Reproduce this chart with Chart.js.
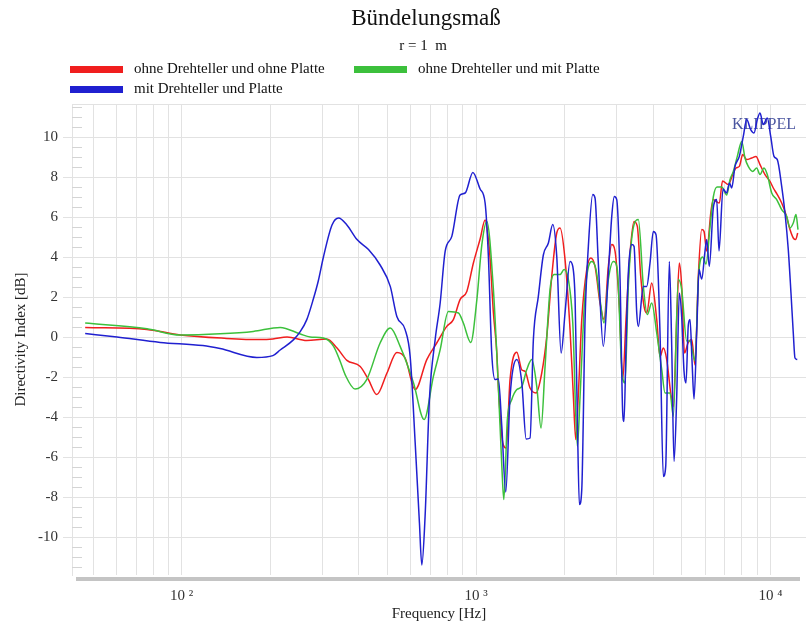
<!DOCTYPE html>
<html>
<head>
<meta charset="utf-8">
<title>Bündelungsmaß</title>
<script src="https://cdn.jsdelivr.net/npm/chart.js@4.4.0/dist/chart.umd.min.js"></script>
<style>
  html, body { margin: 0; padding: 0; background: #fff; }
  #wrap { width: 806px; height: 628px; position: relative; }
</style>
</head>
<body>
<div id="wrap"><canvas id="diChart"></canvas></div>
<script>
// Daten: Bündelungsmaß (Directivity Index) in dB über der Frequenz in Hz
const seriesNames = ['ohne Drehteller und ohne Platte', 'ohne Drehteller und mit Platte', 'mit Drehteller und Platte'];
const seriesColors = ['#f01e1e', '#3cc03c', '#2020d0'];

const freqRed = [47, 76.2, 98.8, 142, 185, 204, 228, 266, 311, 337,
  364, 404, 431, 460, 498, 538, 574, 621, 680, 735,
  795, 837, 882, 930, 979, 1032, 1073, 1101, 1116, 1145,
  1176, 1190, 1232, 1265, 1304, 1375, 1430, 1467, 1525, 1598,
  1671, 1738, 1807, 1879, 1928, 2005, 2085, 2140, 2181, 2226,
  2285, 2376, 2451, 2535, 2636, 2720, 2813, 2889, 2965, 3066,
  3148, 3230, 3333, 3439, 3529, 3624, 3719, 3798, 3949, 4107,
  4214, 4325, 4441, 4582, 4676, 4802, 4901, 4993, 5104, 5246,
  5400, 5541, 5685, 5839, 5945, 6072, 6279, 6393, 6581, 6701,
  6871, 7189, 7440, 7636, 7836, 8046, 8301, 8630, 8927, 9211,
  9579, 9961, 10221, 10546, 10915, 11288, 11646, 11950, 12178, 12370];
const dbRed = [0.48, 0.38, 0.1, -0.07, -0.13, -0.1, 0, -0.18, -0.1, -0.55,
  -1.17, -1.47, -2.13, -2.88, -1.8, -0.77, -1.05, -2.63, -1.13, -0.3,
  0.53, 0.87, 1.87, 2.28, 3.7, 4.9, 5.85, 4.87, 3.9, 1.2,
  -0.8, -2.47, -5.3, -5.55, -2.13, -0.76, -1.65, -1.72, -2.55, -2.8,
  -1.8, 0.03, 3.03, 5.2, 5.45, 3.87, 0.37, -2.97, -5.13, -2.8,
  0.87, 3.37, 3.95, 3.53, 1.7, 0.87, 3.53, 4.62, 4.28, 1.53,
  -2.13, 0.87, 4.2, 5.78, 5.53, 3.03, 1.53, 1.2, 2.7, 0.87,
  -0.97, -0.55, -1.13, -2.8, -3.47, 0.87, 3.7, 2.53, -0.8, -0.3,
  -0.13, -1.4, 3.0, 5.37, 5.28, 4.3, 6.3, 6.87, 6.75, 6.7,
  7.8, 7.62, 8.12, 8.45, 8.53, 9.12, 8.87, 8.95, 9.03, 8.62,
  8.12, 7.78, 7.45, 7.12, 6.7, 6.12, 5.37, 4.95, 4.87, 5.2];

const freqGreen = [47, 76.2, 98.8, 135, 175, 216, 253, 273, 303, 328,
  345, 359, 388, 425, 472, 511, 552, 613, 666, 716,
  755, 805, 871, 905, 959, 1006, 1046, 1087, 1145, 1190,
  1223, 1242, 1277, 1322, 1375, 1430, 1486, 1546, 1607, 1662,
  1715, 1783, 1840, 1928, 1990, 2058, 2130, 2208, 2255, 2345,
  2471, 2555, 2636, 2720, 2813, 2925, 3018, 3124, 3205, 3289,
  3439, 3557, 3699, 3816, 3949, 4107, 4271, 4383, 4557, 4676,
  4863, 4993, 5192, 5329, 5541, 5694, 5876, 6039, 6230, 6393,
  6581, 6827, 7100, 7285, 7476, 7714, 7984, 8191, 8404, 8698,
  8975, 9211, 9504, 9752, 10095, 10496, 10915, 11350, 11646, 11950,
  12207, 12399];
const dbGreen = [0.7, 0.41, 0.1, 0.16, 0.28, 0.48, 0.15, 0, -0.05, -0.47,
  -1.2, -1.88, -2.6, -2.13, -0.3, 0.45, -0.47, -2.3, -4.13, -1.97,
  -0.63, 1.28, 1.2, 0.7, -0.27, 1.87, 4.62, 5.78, 2.37, -2.5,
  -6.47, -8.13, -4.13, -3.13, -2.63, -2.47, -1.63, -1.13, -2.47, -4.55,
  -1.47, 2.37, 3.12, 3.12, 3.37, 2.87, 0.7, -5.47, -2.97, 2.2,
  3.78, 3.37, 1.87, 0.7, 2.87, 3.78, 3.37, -1.63, -2.3, 2.53,
  5.62, 5.87, 2.53, 1.12, 1.7, 0.2, -1.63, -2.8, -2.8, -3.97,
  2.87, 2.37, -0.2, -0.2, -1.2, 3.03, 4.0, 3.65, 5.5, 7.0,
  7.5, 7.5, 7.1, 7.87, 8.28, 9.03, 9.78, 8.95, 8.53, 8.28,
  8.45, 8.12, 8.45, 8.12, 7.2, 6.87, 6.37, 6.03, 5.45, 5.7,
  6.12, 5.37];

const freqBlue = [47, 60.3, 84.5, 118, 135, 180, 204, 216, 240, 253,
  266, 280, 291, 303, 324, 341, 364, 394, 431, 472,
  511, 538, 574, 597, 621, 642, 654, 671, 694, 726,
  755, 785, 827, 882, 918, 975, 1032, 1073, 1101, 1130,
  1160, 1190, 1223, 1261, 1304, 1375, 1430, 1479, 1525, 1565,
  1627, 1692, 1760, 1821, 1879, 1944, 2005, 2085, 2130, 2169,
  2208, 2243, 2285, 2345, 2406, 2490, 2535, 2601, 2705, 2813,
  2889, 2948, 3004, 3083, 3148, 3180, 3230, 3289, 3378, 3439,
  3513, 3557, 3699, 3798, 3897, 3999, 4084, 4214, 4325, 4406,
  4532, 4618, 4702, 4802, 4901, 4993, 5084, 5164, 5258, 5329,
  5413, 5498, 5628, 5717, 5839, 5992, 6072, 6196, 6393, 6566,
  6684, 6898, 7089, 7257, 7383, 7577, 7836, 8083, 8301, 8564,
  8788, 9019, 9211, 9453, 9752, 10016, 10278, 10546, 10915, 11200,
  11492, 11737, 11950, 12111, 12330];
const dbBlue = [0.17, 0, -0.27, -0.43, -0.58, -1.02, -0.93, -0.65, -0.13, 0.28,
  0.87, 1.9, 2.8, 4.0, 5.6, 5.95, 5.6, 4.87, 4.37, 3.6,
  2.53, 1.03, 0.37, -0.97, -5.3, -9.3, -11.4, -8.97, -3.13, -0.13,
  1.7, 4.28, 5.03, 7.1, 7.2, 8.23, 7.4, 6.7, 4.0, -0.8,
  -2.13, -2.1, -4.5, -7.75, -3.0, -1.13, -2.3, -5.1, -5.05, -0.13,
  2.03, 4.1, 4.7, 5.62, 4.03, -0.8, 1.2, 3.78, 3.53, 1.87,
  -4.13, -8.38, -7.63, 0.87, 4.53, 7.12, 6.95, 3.7, -0.47, 3.2,
  6.03, 7.03, 6.87, 2.87, -3.8, -4.22, -0.47, 3.2, 4.62, 4.53,
  1.2, 0.53, 2.53, 2.53, 3.7, 5.28, 5.12, 0.2, -6.97, -6.47,
  3.78, -0.47, -6.22, -2.97, 2.2, 1.0, -1.7, -2.3, 0.6, 0.87,
  -1.2, -3.1, 0.7, 3.37, 2.9, 4.3, 4.87, 3.53, 6.45, 6.87,
  4.3, 7.4, 7.2, 7.7, 7.45, 8.53, 9.03, 10.03, 10.87, 10.37,
  10.2, 10.87, 11.2, 10.62, 10.95, 10.03, 9.03, 8.87, 7.53, 6.2,
  4.37, 2.2, 0.2, -1.05, -1.13];

// Achsen
const decadeTicks = [100, 1000, 10000];
const decadeLabels = ['10 ²', '10 ³', '10 ⁴'];
const yMajorTicks = [-10, -8, -6, -4, -2, 0, 2, 4, 6, 8, 10];
const xMin = 42.4, xMax = 13200;
const yMin = -11.9, yMax = 11.65;

const serif = '"Liberation Serif", "Times New Roman", serif';
const gridCol = '#e2e2e2';

// Gitterlinien bei 1..9 x 10^n
const gridFreqs = [];
[10, 100, 1000, 10000].forEach(d => {
  for (let m = 1; m <= 9; m++) {
    const v = d * m;
    if (v >= xMin && v <= xMax) gridFreqs.push(v);
  }
});

function toPoints(fs, vs) {
  return fs.map((f, i) => ({ x: f, y: vs[i] }));
}

// Titel, Legende, KLIPPEL-Schriftzug, Rahmen
const decorPlugin = {
  id: 'decor',
  beforeDatasetsDraw(chart) {
    const ctx = chart.ctx;
    ctx.save();
    ctx.font = '16px ' + serif;
    ctx.fillStyle = '#4a55a0';
    ctx.textAlign = 'right';
    ctx.textBaseline = 'middle';
    ctx.fillText('KLIPPEL', chart.chartArea.right - 10, 125);
    ctx.restore();
  },
  afterDraw(chart) {
    const ctx = chart.ctx;
    const area = chart.chartArea;
    const yScale = chart.scales.y;
    ctx.save();

    // obere Rahmenlinie
    ctx.strokeStyle = gridCol;
    ctx.lineWidth = 1;
    ctx.beginPath();
    ctx.moveTo(area.left, area.top + 0.5);
    ctx.lineTo(area.right, area.top + 0.5);
    ctx.stroke();

    // kleine Striche innen an der y-Achse (alle 0.5 dB)
    ctx.strokeStyle = '#d4d4d4';
    yScale.ticks.forEach(t => {
      if (t.value % 2 === 0) return;
      const py = Math.round(yScale.getPixelForValue(t.value)) + 0.5;
      ctx.beginPath();
      ctx.moveTo(area.left, py);
      ctx.lineTo(area.left + 10, py);
      ctx.stroke();
    });

    // grauer Balken unter der Frequenzachse
    ctx.fillStyle = '#c4c4c4';
    ctx.fillRect(area.left + 4, area.bottom + 2, area.right - area.left - 10, 4);

    // Titel
    ctx.fillStyle = '#111';
    ctx.textAlign = 'center';
    ctx.textBaseline = 'middle';
    ctx.font = '23px ' + serif;
    ctx.fillText('Bündelungsmaß', 426, 19);
    ctx.font = '15px ' + serif;
    ctx.fillText('r = 1  m', 423, 46);

    // Legende
    const pos = [[70, 69.5], [354, 69.5], [70, 89.5]];
    ctx.textAlign = 'left';
    chart.data.datasets.forEach((ds, i) => {
      const [lx, ly] = pos[i];
      ctx.fillStyle = ds.borderColor;
      ctx.fillRect(lx, ly - 3.5, 53, 7);
      ctx.fillStyle = '#111';
      ctx.fillText(ds.label, lx + 64, ly);
    });
    ctx.restore();
  }
};

const ctx = document.getElementById('diChart').getContext('2d');
const diChart = new Chart(ctx, {
  type: 'line',
  data: {
    datasets: [
      { label: seriesNames[0], data: toPoints(freqRed, dbRed), borderColor: seriesColors[0], order: 3 },
      { label: seriesNames[1], data: toPoints(freqGreen, dbGreen), borderColor: seriesColors[1], order: 2 },
      { label: seriesNames[2], data: toPoints(freqBlue, dbBlue), borderColor: seriesColors[2], order: 1 }
    ]
  },
  options: {
    responsive: true,
    maintainAspectRatio: false,
    animation: false,
    devicePixelRatio: 1,
    layout: { padding: { top: 104, left: 0, right: 0, bottom: 0 } },
    elements: {
      point: { radius: 0 },
      line: { borderWidth: 1.5, fill: false, cubicInterpolationMode: 'monotone' }
    },
    plugins: {
      legend: { display: false },
      title: { display: false },
      tooltip: { enabled: false }
    },
    scales: {
      x: {
        type: 'logarithmic',
        min: xMin,
        max: xMax,
        afterBuildTicks: s => { s.ticks = gridFreqs.map(v => ({ value: v })); },
        afterFit: s => { s.height = 53; },
        ticks: {
          autoSkip: false,
          maxRotation: 0,
          padding: 12,
          color: '#333',
          font: { family: serif, size: 15 },
          callback: v => {
            const i = decadeTicks.indexOf(v);
            return i >= 0 ? decadeLabels[i] : '';
          }
        },
        grid: { color: gridCol, lineWidth: 1, drawTicks: false },
        border: { display: false },
        title: {
          display: true,
          text: 'Frequency [Hz]',
          color: '#222',
          font: { family: serif, size: 15 },
          padding: { top: 0, bottom: 5 }
        }
      },
      y: {
        min: yMin,
        max: yMax,
        afterBuildTicks: s => {
          const t = [];
          for (let v = -11.5; v <= 11.5; v += 0.5) t.push({ value: v });
          s.ticks = t;
        },
        afterFit: s => { s.width = 72; },
        ticks: {
          autoSkip: false,
          padding: 5,
          color: '#333',
          font: { family: serif, size: 15 },
          callback: v => yMajorTicks.includes(v) ? String(v) : ''
        },
        grid: {
          tickLength: 9,
          color: c => (c.tick && c.tick.value % 2 === 0) ? gridCol : 'rgba(0,0,0,0)',
          tickColor: c => (c.tick && c.tick.value % 2 === 0) ? gridCol : 'rgba(0,0,0,0)'
        },
        border: { display: true, color: gridCol },
        title: {
          display: true,
          text: 'Directivity Index [dB]',
          color: '#222',
          font: { family: serif, size: 15 },
          padding: { top: 12, bottom: 0 }
        }
      }
    }
  },
  plugins: [decorPlugin]
});
</script>
</body>
</html>
